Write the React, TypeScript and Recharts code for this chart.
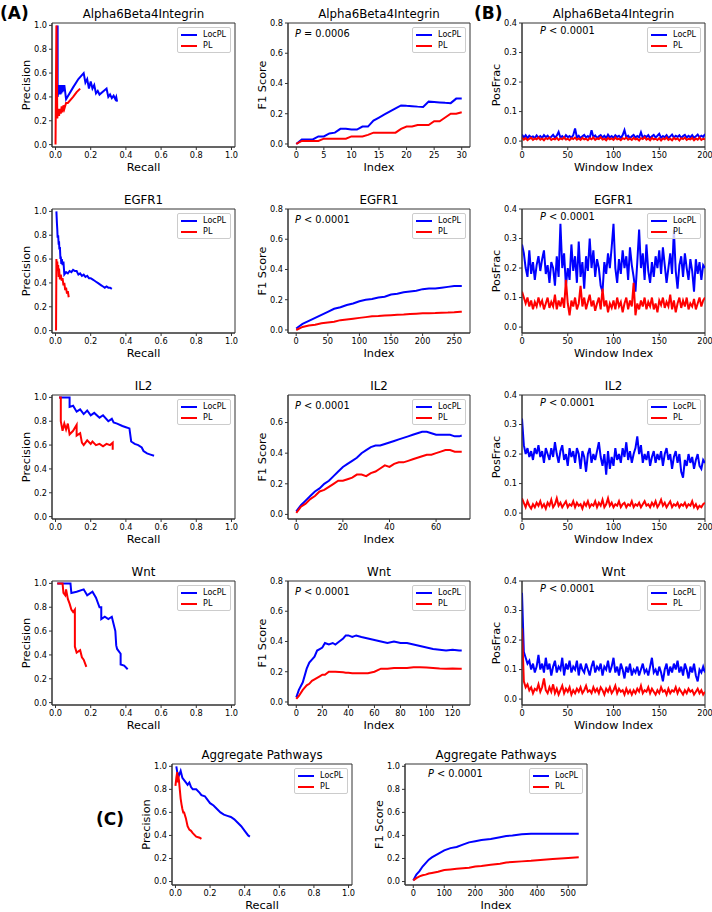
import React from 'react';
import { LineChart, Line, XAxis, YAxis, Legend, ReferenceArea } from 'recharts';

const BLUE = '#0000ff';
const RED = '#ff0000';
const FONT = '"DejaVu Sans", Verdana, sans-serif';

// ---- precision / recall curves ----
const a6PrLocRecall = [0.012,0.012,0.02,0.022,0.025,0.028,0.03,0.033,0.036,0.04,0.043,0.047,0.05,0.06,0.1,0.13,0.16,0.17,0.18,0.19,0.2,0.21,0.22,0.23,0.24,0.25,0.29,0.3,0.31,0.32,0.33,0.34,0.345,0.35];
const a6PrLocPrec = [1.0,0.4,0.5,0.42,0.5,0.42,0.5,0.43,0.5,0.44,0.5,0.45,0.5,0.38,0.48,0.55,0.6,0.52,0.55,0.47,0.53,0.47,0.5,0.43,0.45,0.42,0.47,0.4,0.42,0.39,0.41,0.38,0.4,0.36];
const a6PrPlRecall = [0.0,0.005,0.008,0.01,0.015,0.02,0.025,0.03,0.035,0.04,0.045,0.05,0.06,0.07,0.1,0.12,0.14];
const a6PrPlPrec = [0.0,1.0,0.6,0.22,0.3,0.24,0.3,0.26,0.32,0.27,0.33,0.3,0.35,0.35,0.4,0.44,0.47];

const egPrLocRecall = [0.005,0.008,0.01,0.012,0.015,0.018,0.02,0.022,0.025,0.028,0.03,0.033,0.036,0.04,0.045,0.05,0.06,0.07,0.08,0.09,0.1,0.11,0.12,0.13,0.14,0.15,0.16,0.17,0.18,0.19,0.2,0.21,0.22,0.23,0.24,0.25,0.26,0.27,0.28,0.29,0.3,0.31,0.32];
const egPrLocPrec = [1.0,0.9,0.85,0.78,0.8,0.72,0.75,0.68,0.7,0.6,0.62,0.56,0.6,0.55,0.58,0.47,0.49,0.48,0.5,0.49,0.51,0.5,0.5,0.47,0.48,0.46,0.47,0.45,0.46,0.44,0.44,0.43,0.42,0.41,0.4,0.39,0.38,0.37,0.36,0.37,0.36,0.36,0.35];
const egPrPlRecall = [0.003,0.005,0.007,0.01,0.012,0.015,0.018,0.02,0.025,0.03,0.035,0.04,0.045,0.05,0.055,0.06,0.065,0.07,0.075];
const egPrPlPrec = [0.0,0.6,0.55,0.58,0.5,0.55,0.45,0.52,0.43,0.47,0.42,0.44,0.38,0.4,0.34,0.36,0.31,0.33,0.28];

const ilPrLocRecall = [0.02,0.08,0.08,0.1,0.12,0.14,0.16,0.18,0.2,0.22,0.25,0.27,0.3,0.32,0.33,0.35,0.38,0.4,0.42,0.43,0.45,0.47,0.49,0.5,0.52,0.54,0.56];
const ilPrLocPrec = [1.0,1.0,0.92,0.93,0.88,0.9,0.86,0.89,0.85,0.87,0.83,0.85,0.8,0.82,0.79,0.78,0.76,0.75,0.74,0.63,0.61,0.6,0.58,0.55,0.53,0.52,0.51];
const ilPrPlRecall = [0.02,0.03,0.03,0.04,0.05,0.06,0.07,0.08,0.1,0.12,0.12,0.14,0.15,0.16,0.18,0.2,0.21,0.23,0.25,0.27,0.29,0.31,0.325,0.325];
const ilPrPlPrec = [1.0,1.0,0.8,0.72,0.78,0.73,0.78,0.69,0.72,0.77,0.68,0.7,0.62,0.6,0.64,0.61,0.63,0.6,0.61,0.59,0.61,0.6,0.62,0.56];

const wnPrLocRecall = [0.01,0.085,0.09,0.12,0.16,0.18,0.21,0.23,0.25,0.26,0.26,0.28,0.3,0.32,0.33,0.34,0.345,0.35,0.36,0.37,0.37,0.39,0.41];
const wnPrLocPrec = [1.0,1.0,0.92,0.93,0.95,0.9,0.93,0.88,0.8,0.8,0.7,0.72,0.7,0.72,0.66,0.6,0.48,0.45,0.43,0.41,0.32,0.31,0.28];
const wnPrPlRecall = [0.01,0.04,0.045,0.055,0.06,0.07,0.08,0.09,0.1,0.11,0.11,0.12,0.14,0.15,0.16,0.17,0.175];
const wnPrPlPrec = [1.0,1.0,0.92,0.9,0.95,0.87,0.83,0.78,0.76,0.78,0.47,0.42,0.44,0.38,0.36,0.32,0.3];

const agPrLocRecall = [0.005,0.01,0.02,0.03,0.04,0.05,0.06,0.07,0.08,0.09,0.1,0.12,0.14,0.15,0.17,0.18,0.2,0.22,0.24,0.26,0.28,0.3,0.32,0.34,0.36,0.38,0.4,0.42,0.43];
const agPrLocPrec = [1.0,0.95,0.92,0.96,0.9,0.88,0.86,0.84,0.86,0.82,0.8,0.8,0.77,0.75,0.74,0.72,0.68,0.66,0.63,0.6,0.58,0.57,0.56,0.54,0.51,0.48,0.44,0.4,0.39];
const agPrPlRecall = [0.0,0.005,0.01,0.013,0.016,0.02,0.025,0.03,0.035,0.04,0.045,0.05,0.06,0.07,0.08,0.09,0.1,0.12,0.14,0.15];
const agPrPlPrec = [0.83,0.9,0.95,0.86,0.92,0.88,0.8,0.72,0.67,0.63,0.6,0.6,0.55,0.48,0.45,0.44,0.42,0.39,0.38,0.37];

// ---- F1 score vs index ----
const a6F1Idx = [0,1,2,3,4,5,6,7,8,9,10,11,12,13,14,15,16,17,18,19,20,21,22,23,24,25,26,27,28,29,30];
const a6F1Loc = [0.0,0.03,0.03,0.03,0.05,0.05,0.07,0.075,0.1,0.1,0.095,0.095,0.115,0.115,0.155,0.175,0.195,0.215,0.235,0.255,0.252,0.25,0.247,0.245,0.28,0.278,0.275,0.272,0.27,0.3,0.3];
const a6F1Pl = [0.0,0.02,0.02,0.02,0.02,0.035,0.035,0.035,0.035,0.035,0.05,0.05,0.05,0.06,0.075,0.075,0.075,0.075,0.075,0.1,0.115,0.115,0.125,0.125,0.125,0.15,0.15,0.175,0.2,0.2,0.21];

const egF1Idx = [0,10,20,30,40,50,60,70,80,90,100,110,120,130,140,150,160,170,180,190,200,210,220,230,240,250,260,262];
const egF1Loc = [0.01,0.04,0.06,0.08,0.1,0.12,0.14,0.15,0.165,0.175,0.19,0.2,0.205,0.215,0.22,0.235,0.24,0.25,0.255,0.26,0.27,0.275,0.275,0.28,0.285,0.29,0.29,0.29];
const egF1Pl = [0.0,0.02,0.03,0.035,0.045,0.05,0.055,0.065,0.07,0.075,0.08,0.085,0.09,0.092,0.095,0.098,0.1,0.102,0.105,0.108,0.11,0.111,0.112,0.114,0.115,0.117,0.12,0.12];

const ilF1Idx = [0,2,4,6,8,10,12,14,16,18,20,22,24,26,28,30,32,34,36,38,40,42,44,46,48,50,52,54,56,58,60,62,64,66,68,70,71];
const ilF1Loc = [0.02,0.06,0.09,0.12,0.15,0.17,0.2,0.22,0.25,0.28,0.31,0.33,0.35,0.37,0.4,0.42,0.44,0.45,0.45,0.46,0.47,0.48,0.49,0.5,0.51,0.52,0.53,0.54,0.54,0.53,0.52,0.52,0.52,0.52,0.51,0.51,0.515];
const ilF1Pl = [0.01,0.05,0.07,0.1,0.12,0.15,0.16,0.18,0.2,0.22,0.22,0.23,0.24,0.26,0.26,0.25,0.27,0.28,0.3,0.32,0.31,0.33,0.34,0.34,0.35,0.36,0.37,0.38,0.39,0.39,0.4,0.41,0.42,0.42,0.41,0.41,0.41];

const wnF1Idx = [0,2,5,8,10,12,14,16,18,20,22,25,28,30,33,36,38,40,43,46,50,55,60,65,70,75,80,85,90,95,100,105,110,115,120,125,127];
const wnF1Loc = [0.03,0.08,0.13,0.22,0.26,0.28,0.3,0.34,0.35,0.36,0.39,0.38,0.39,0.38,0.4,0.42,0.44,0.44,0.43,0.44,0.43,0.42,0.41,0.4,0.39,0.4,0.39,0.39,0.38,0.37,0.36,0.35,0.345,0.34,0.345,0.34,0.34];
const wnF1Pl = [0.02,0.04,0.08,0.11,0.12,0.14,0.15,0.16,0.17,0.18,0.18,0.2,0.2,0.2,0.198,0.196,0.194,0.193,0.19,0.19,0.19,0.19,0.2,0.22,0.22,0.225,0.225,0.225,0.23,0.23,0.228,0.225,0.222,0.22,0.222,0.22,0.22];

const agF1Idx = [0,10,20,30,40,50,60,80,100,120,140,160,180,200,220,250,280,300,320,350,380,400,450,500,534];
const agF1Loc = [0.01,0.06,0.09,0.13,0.16,0.19,0.21,0.24,0.27,0.29,0.3,0.32,0.34,0.35,0.36,0.37,0.385,0.395,0.4,0.41,0.415,0.415,0.415,0.415,0.415];
const agF1Pl = [0.01,0.03,0.045,0.055,0.06,0.07,0.075,0.085,0.1,0.105,0.11,0.115,0.12,0.13,0.135,0.145,0.155,0.165,0.17,0.175,0.18,0.185,0.195,0.205,0.21];

// ---- positive fraction per window ----
const winIdx = [0,2,4,6,8,10,12,14,16,18,20,22,24,26,28,30,32,34,36,38,40,42,44,46,48,50,52,54,56,58,60,62,64,66,68,70,72,74,76,78,80,82,84,86,88,90,92,94,96,98,100,102,104,106,108,110,112,114,116,118,120,122,124,126,128,130,132,134,136,138,140,142,144,146,148,150,152,154,156,158,160,162,164,166,168,170,172,174,176,178,180,182,184,186,188,190,192,194,196,198,200];

const a6WinLoc = [0.022,0.012,0.02,0.01,0.018,0.013,0.016,0.01,0.019,0.012,0.017,0.011,0.02,0.013,0.018,0.01,0.015,0.021,0.012,0.018,0.031,0.012,0.017,0.01,0.02,0.013,0.017,0.011,0.02,0.043,0.012,0.018,0.01,0.016,0.021,0.012,0.017,0.011,0.037,0.014,0.019,0.01,0.016,0.02,0.012,0.018,0.01,0.022,0.013,0.017,0.011,0.02,0.014,0.018,0.011,0.02,0.037,0.013,0.018,0.01,0.016,0.021,0.012,0.017,0.013,0.03,0.011,0.018,0.014,0.02,0.01,0.016,0.021,0.012,0.018,0.025,0.011,0.017,0.013,0.02,0.01,0.016,0.022,0.012,0.018,0.014,0.02,0.011,0.017,0.021,0.012,0.018,0.013,0.02,0.011,0.016,0.022,0.013,0.018,0.014,0.024];
const a6WinPl = [0.012,0.005,0.01,0.003,0.008,0.011,0.004,0.009,0.006,0.012,0.005,0.009,0.003,0.01,0.007,0.012,0.004,0.008,0.006,0.011,0.004,0.009,0.006,0.013,0.005,0.008,0.003,0.01,0.007,0.012,0.005,0.009,0.004,0.011,0.006,0.008,0.003,0.01,0.006,0.012,0.004,0.009,0.007,0.013,0.005,0.008,0.003,0.011,0.006,0.009,0.004,0.012,0.006,0.008,0.003,0.01,0.007,0.012,0.005,0.009,0.004,0.011,0.006,0.008,0.002,0.01,0.007,0.013,0.005,0.009,0.003,0.011,0.006,0.008,0.004,0.01,0.002,0.009,0.006,0.012,0.004,0.008,0.003,0.011,0.006,0.009,0.002,0.01,0.007,0.012,0.004,0.008,0.006,0.011,0.003,0.009,0.005,0.012,0.004,0.008,0.006];

const egWinLoc = [0.28,0.25,0.2,0.17,0.26,0.18,0.22,0.16,0.21,0.24,0.19,0.23,0.26,0.18,0.21,0.15,0.22,0.2,0.14,0.24,0.17,0.35,0.2,0.25,0.14,0.2,0.16,0.28,0.19,0.24,0.15,0.29,0.17,0.22,0.13,0.24,0.19,0.3,0.2,0.26,0.17,0.23,0.2,0.14,0.12,0.22,0.18,0.25,0.2,0.27,0.35,0.2,0.15,0.23,0.18,0.26,0.2,0.24,0.16,0.27,0.21,0.17,0.12,0.22,0.33,0.2,0.25,0.16,0.28,0.19,0.15,0.22,0.17,0.24,0.2,0.26,0.18,0.27,0.21,0.15,0.2,0.25,0.18,0.33,0.19,0.13,0.21,0.24,0.17,0.25,0.2,0.16,0.23,0.19,0.12,0.23,0.18,0.22,0.16,0.21,0.2];
const egWinPl = [0.12,0.1,0.08,0.1,0.07,0.09,0.06,0.085,0.07,0.1,0.075,0.09,0.06,0.08,0.1,0.065,0.085,0.07,0.11,0.06,0.09,0.07,0.1,0.065,0.16,0.08,0.04,0.09,0.07,0.1,0.06,0.08,0.14,0.07,0.1,0.06,0.085,0.11,0.07,0.09,0.055,0.08,0.1,0.06,0.13,0.07,0.09,0.05,0.08,0.065,0.09,0.06,0.1,0.07,0.085,0.05,0.08,0.1,0.06,0.09,0.07,0.15,0.04,0.08,0.06,0.09,0.07,0.1,0.06,0.085,0.07,0.1,0.06,0.08,0.05,0.09,0.075,0.1,0.065,0.085,0.07,0.11,0.06,0.09,0.05,0.08,0.1,0.065,0.09,0.07,0.1,0.06,0.08,0.07,0.095,0.06,0.08,0.1,0.07,0.09,0.1];

const ilWinLoc = [0.32,0.23,0.2,0.22,0.19,0.21,0.18,0.22,0.2,0.23,0.19,0.21,0.17,0.22,0.2,0.18,0.22,0.19,0.24,0.2,0.17,0.21,0.23,0.18,0.2,0.16,0.22,0.19,0.21,0.17,0.22,0.2,0.15,0.21,0.19,0.14,0.2,0.22,0.17,0.2,0.18,0.21,0.24,0.19,0.16,0.2,0.13,0.21,0.15,0.19,0.16,0.22,0.18,0.2,0.17,0.22,0.19,0.24,0.18,0.21,0.17,0.2,0.22,0.26,0.2,0.23,0.17,0.2,0.18,0.21,0.16,0.19,0.21,0.17,0.2,0.18,0.21,0.16,0.2,0.22,0.18,0.2,0.15,0.19,0.21,0.17,0.2,0.14,0.12,0.18,0.16,0.2,0.17,0.19,0.15,0.18,0.2,0.16,0.15,0.18,0.17];
const ilWinPl = [0.05,0.035,0.02,0.04,0.025,0.015,0.03,0.02,0.035,0.025,0.04,0.02,0.03,0.015,0.035,0.025,0.045,0.02,0.03,0.05,0.025,0.035,0.02,0.03,0.04,0.02,0.03,0.025,0.04,0.02,0.035,0.025,0.03,0.015,0.035,0.025,0.04,0.02,0.03,0.025,0.04,0.02,0.035,0.025,0.045,0.02,0.03,0.05,0.025,0.035,0.02,0.03,0.025,0.04,0.02,0.03,0.035,0.02,0.03,0.025,0.04,0.02,0.03,0.025,0.035,0.02,0.03,0.04,0.025,0.03,0.02,0.035,0.025,0.04,0.02,0.03,0.045,0.025,0.035,0.02,0.03,0.04,0.02,0.03,0.025,0.035,0.02,0.03,0.025,0.035,0.02,0.03,0.025,0.04,0.02,0.03,0.015,0.025,0.02,0.03,0.035];

const wnWinLoc = [0.36,0.16,0.14,0.12,0.13,0.1,0.12,0.09,0.11,0.15,0.1,0.12,0.09,0.14,0.1,0.12,0.08,0.11,0.13,0.09,0.11,0.1,0.14,0.08,0.12,0.1,0.13,0.09,0.11,0.1,0.13,0.08,0.12,0.1,0.09,0.12,0.1,0.08,0.11,0.13,0.09,0.11,0.1,0.12,0.08,0.11,0.1,0.13,0.09,0.11,0.14,0.09,0.11,0.08,0.12,0.1,0.07,0.11,0.09,0.12,0.08,0.1,0.09,0.11,0.08,0.1,0.12,0.09,0.1,0.08,0.11,0.14,0.09,0.1,0.08,0.11,0.09,0.06,0.1,0.12,0.08,0.11,0.09,0.12,0.1,0.13,0.09,0.11,0.08,0.12,0.1,0.07,0.11,0.09,0.12,0.08,0.06,0.1,0.09,0.11,0.09];
const wnWinPl = [0.24,0.06,0.04,0.05,0.03,0.04,0.02,0.035,0.03,0.05,0.025,0.04,0.07,0.03,0.02,0.04,0.025,0.05,0.02,0.035,0.015,0.03,0.045,0.02,0.035,0.025,0.04,0.015,0.03,0.02,0.035,0.025,0.04,0.02,0.03,0.045,0.025,0.03,0.02,0.04,0.025,0.035,0.02,0.04,0.03,0.015,0.035,0.025,0.04,0.02,0.03,0.045,0.02,0.035,0.025,0.03,0.015,0.035,0.02,0.03,0.015,0.03,0.02,0.035,0.025,0.045,0.02,0.03,0.025,0.04,0.02,0.035,0.025,0.015,0.03,0.02,0.04,0.025,0.03,0.015,0.035,0.02,0.03,0.025,0.04,0.02,0.035,0.025,0.015,0.03,0.02,0.035,0.025,0.03,0.015,0.025,0.035,0.02,0.03,0.015,0.025];

// ---- ticks ----
const prTicks = [0, 0.2, 0.4, 0.6, 0.8, 1.0];
const f1Ticks = [0, 0.2, 0.4, 0.6, 0.8];
const f1TicksIl2 = [0, 0.2, 0.4, 0.6];
const f1TicksAgg = [0, 0.2, 0.4, 0.6, 0.8, 1.0];
const posTicks = [0, 0.1, 0.2, 0.3, 0.4];
const winTicks = [0, 50, 100, 150, 200];
const a6IdxTicks = [0, 5, 10, 15, 20, 25, 30];
const egIdxTicks = [0, 50, 100, 150, 200, 250];
const ilIdxTicks = [0, 20, 40, 60];
const wnIdxTicks = [0, 20, 40, 60, 80, 100, 120];
const agIdxTicks = [0, 100, 200, 300, 400, 500];

const zip = (xs: number[], ys: number[]) => xs.map((x, i) => ({ x, y: ys[i] }));
const pair = (xl: number[], yl: number[], xp: number[], yp: number[]) => [
  { name: 'LocPL', color: BLUE, data: zip(xl, yl) },
  { name: 'PL', color: RED, data: zip(xp, yp) },
];

const LegendBox = ({ payload }: any) => (
  <div style={{ border: '1px solid #cccccc', borderRadius: 2, background: 'rgba(255,255,255,0.8)', padding: '1px 4px 1px 3px', fontSize: 8, lineHeight: '11px', fontFamily: FONT, color: '#000' }}>
    {(payload || []).map((p: any) => (
      <div key={p.value} style={{ display: 'flex', alignItems: 'center' }}>
        <span style={{ display: 'inline-block', width: 16, height: 0, borderTop: `2px solid ${p.color}`, marginRight: 6 }} />
        <span>{p.value}</span>
      </div>
    ))}
  </div>
);

type PanelProps = {
  x: number; y: number; w: number; h: number;
  title: string; xLabel: string; yLabel: string;
  xDomain: [number, number]; yDomain: [number, number];
  xTicks: number[]; yTicks: number[];
  xFmt?: (v: number) => string;
  series: { name: string; color: string; data: { x: number; y: number }[] }[];
  pText?: string; pDx?: number; pDy?: number;
};

const fmt1 = (v: number) => v.toFixed(1);
const fmt0 = (v: number) => String(v);

function Panel(p: PanelProps) {
  const YW = 52, XH = 40, MT = 8, MR = 12;
  const cw = p.w + YW + MR;
  const ch = p.h + XH + MT;
  const tickStyle = { fontSize: 8.2, fill: '#000', fontFamily: FONT };
  const labStyle = { fontSize: 11.3, fill: '#000', fontFamily: FONT };
  return (
    <>
      <div style={{ position: 'absolute', left: p.x - 20, top: p.y - 16, width: p.w + 40, textAlign: 'center', fontSize: 11.8, lineHeight: '15px', color: '#000' }}>{p.title}</div>
      <div style={{ position: 'absolute', left: p.x - YW, top: p.y - MT }}>
        <LineChart width={cw} height={ch} margin={{ top: MT, right: MR, left: 0, bottom: 0 }}>
          <ReferenceArea x1={p.xDomain[0]} x2={p.xDomain[1]} y1={p.yDomain[0]} y2={p.yDomain[1]} fill="none" stroke="#333" strokeWidth={1} fillOpacity={0} />
          <XAxis type="number" dataKey="x" domain={p.xDomain} ticks={p.xTicks} allowDataOverflow interval={0}
            tickFormatter={p.xFmt || fmt0} height={XH} tickSize={3} tickMargin={2} stroke="#333" tick={tickStyle}
            label={{ value: p.xLabel, position: 'center', ...labStyle }} />
          <YAxis type="number" domain={p.yDomain} ticks={p.yTicks} allowDataOverflow interval={0}
            tickFormatter={fmt1} width={YW} tickSize={3} tickMargin={2} stroke="#333" tick={tickStyle}
            label={{ value: p.yLabel, angle: -90, position: 'center', ...labStyle }} />
          <Legend layout="vertical" align="center" verticalAlign="middle" wrapperStyle={{ top: MT + 4, right: MR + 4 }} content={<LegendBox />} />
          {p.series.map((s) => (
            <Line key={s.name} data={s.data} dataKey="y" name={s.name} type="linear" stroke={s.color} strokeWidth={2}
              dot={false} activeDot={false} isAnimationActive={false} />
          ))}
        </LineChart>
      </div>
      {p.pText && (
        <div style={{ position: 'absolute', left: p.x + (p.pDx || 7), top: p.y + (p.pDy || 11) - 6, fontSize: 9.8, lineHeight: '12px', color: '#000', whiteSpace: 'nowrap' }}>
          <i>P</i>{p.pText}
        </div>
      )}
    </>
  );
}

const COLX = [52, 288, 522];
const COLW = [183, 182, 183];
const ROWY = [23, 209, 395, 581];
const H = 124;

const prDom: [number, number] = [-0.02, 1.02];
const posDom: [number, number] = [-0.02, 0.4];
const winDom: [number, number] = [0, 200];

const pathways = [
  { title: 'Alpha6Beta4Integrin', pr: pair(a6PrLocRecall, a6PrLocPrec, a6PrPlRecall, a6PrPlPrec), f1: pair(a6F1Idx, a6F1Loc, a6F1Idx, a6F1Pl), f1X: [-1.5, 31.5] as [number, number], f1Y: [-0.02, 0.8] as [number, number], f1XT: a6IdxTicks, f1YT: f1Ticks, f1P: ' = 0.0006', win: pair(winIdx, a6WinLoc, winIdx, a6WinPl) },
  { title: 'EGFR1', pr: pair(egPrLocRecall, egPrLocPrec, egPrPlRecall, egPrPlPrec), f1: pair(egF1Idx, egF1Loc, egF1Idx, egF1Pl), f1X: [-13, 275] as [number, number], f1Y: [-0.02, 0.8] as [number, number], f1XT: egIdxTicks, f1YT: f1Ticks, f1P: ' < 0.0001', win: pair(winIdx, egWinLoc, winIdx, egWinPl) },
  { title: 'IL2', pr: pair(ilPrLocRecall, ilPrLocPrec, ilPrPlRecall, ilPrPlPrec), f1: pair(ilF1Idx, ilF1Loc, ilF1Idx, ilF1Pl), f1X: [-3.55, 74.55] as [number, number], f1Y: [-0.03, 0.78] as [number, number], f1XT: ilIdxTicks, f1YT: f1TicksIl2, f1P: ' < 0.0001', win: pair(winIdx, ilWinLoc, winIdx, ilWinPl) },
  { title: 'Wnt', pr: pair(wnPrLocRecall, wnPrLocPrec, wnPrPlRecall, wnPrPlPrec), f1: pair(wnF1Idx, wnF1Loc, wnF1Idx, wnF1Pl), f1X: [-6.35, 133.35] as [number, number], f1Y: [-0.02, 0.8] as [number, number], f1XT: wnIdxTicks, f1YT: f1Ticks, f1P: ' < 0.0001', win: pair(winIdx, wnWinLoc, winIdx, wnWinPl) },
];

export default function App() {
  return (
    <div style={{ position: 'absolute', left: 0, top: 0, width: 712, height: 912, background: '#fff', fontFamily: FONT, overflow: 'hidden' }}>
      <div style={{ position: 'absolute', left: 0, top: 2, fontSize: 17, fontWeight: 'bold', lineHeight: '22px' }}>(A)</div>
      <div style={{ position: 'absolute', left: 474, top: 2, fontSize: 17, fontWeight: 'bold', lineHeight: '22px' }}>(B)</div>
      <div style={{ position: 'absolute', left: 96, top: 808, fontSize: 17, fontWeight: 'bold', lineHeight: '22px' }}>(C)</div>
      {pathways.map((pw, r) => (
        <React.Fragment key={pw.title}>
          <Panel x={COLX[0]} y={ROWY[r]} w={COLW[0]} h={H} title={pw.title} xLabel="Recall" yLabel="Precision"
            xDomain={prDom} yDomain={prDom} xTicks={prTicks} yTicks={prTicks} xFmt={fmt1} series={pw.pr} />
          <Panel x={COLX[1]} y={ROWY[r]} w={COLW[1]} h={H} title={pw.title} xLabel="Index" yLabel="F1 Score"
            xDomain={pw.f1X} yDomain={pw.f1Y} xTicks={pw.f1XT} yTicks={pw.f1YT} series={pw.f1} pText={pw.f1P} pDx={7} pDy={11} />
          <Panel x={COLX[2]} y={ROWY[r]} w={COLW[2]} h={H} title={pw.title} xLabel="Window Index" yLabel="PosFrac"
            xDomain={winDom} yDomain={posDom} xTicks={winTicks} yTicks={posTicks} series={pw.win} pText=" < 0.0001" pDx={18} pDy={8} />
        </React.Fragment>
      ))}
      <Panel x={172} y={764} w={180} h={121} title="Aggregate Pathways" xLabel="Recall" yLabel="Precision"
        xDomain={[-0.02, 1.02]} yDomain={[-0.03, 1.02]} xTicks={prTicks} yTicks={prTicks} xFmt={fmt1}
        series={pair(agPrLocRecall, agPrLocPrec, agPrPlRecall, agPrPlPrec)} />
      <Panel x={405} y={764} w={182} h={121} title="Aggregate Pathways" xLabel="Index" yLabel="F1 Score"
        xDomain={[-26.7, 560.7]} yDomain={[-0.03, 1.02]} xTicks={agIdxTicks} yTicks={f1TicksAgg}
        series={pair(agF1Idx, agF1Loc, agF1Idx, agF1Pl)} pText=" < 0.0001" pDx={23} pDy={10} />
    </div>
  );
}
